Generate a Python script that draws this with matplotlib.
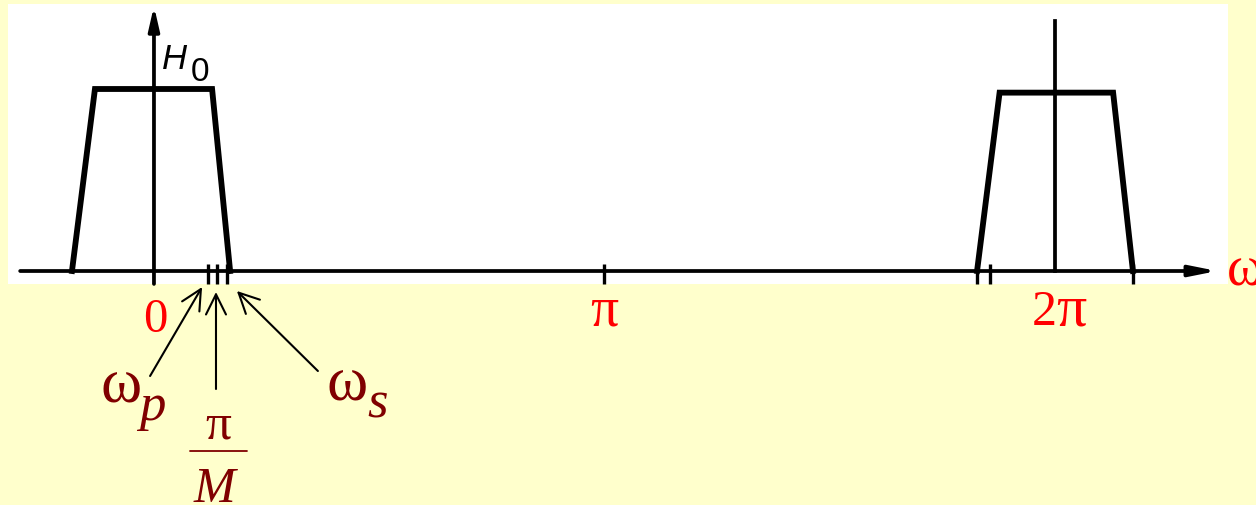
import numpy as np
import matplotlib
matplotlib.use('Agg')
import matplotlib.pyplot as plt
from matplotlib.transforms import offset_copy

PI = np.pi

# ---- data (frequencies in units of pi) ----
left_w = [-0.182, -0.131, 0.129, 0.169]
left_h = [0.0, 1.0, 1.0, 0.0]
right_w = [1.827, 1.877, 2.129, 2.173]
right_h = [0.0, 0.98, 0.98, 0.0]
tick_w = [0.119, 0.141, 0.163, 1.0, 1.827, 1.856, 2.173]
label_w = [0.0, 1.0, 2.0]
label_num = ['0', '', '2']
label_greek = ['', 'π', 'π']
wp, pi_M, ws = 0.119, 0.141, 0.163
x_axis = [-0.297, 2.360]
y_axis = [-0.071, 1.456]
line_2pi = [0.0, 1.374]

BG = '#FFFFCC'
RED = '#FF0000'
DRED = '#800000'
SERIF = 'Liberation Serif'
SANS = 'Liberation Sans'

fig = plt.figure(figsize=(12.56, 5.06), dpi=100, facecolor=BG)
ax = fig.add_axes([8 / 1256, 221 / 506, 1220 / 1256, 280 / 506])
ax.set_facecolor('white')
for s in ax.spines.values():
    s.set_visible(False)
ax.set_xticks([])
ax.set_yticks([])
ax.set_xlim(-0.324 * PI, 2.384 * PI)
ax.set_ylim(-0.0714, 1.467)


def at(dx, dy):
    return offset_copy(ax.transData, fig=fig, x=dx, y=dy, units='dots')


# trapezoids
ax.plot(np.array(left_w) * PI, left_h, color='black', lw=4.2,
        solid_joinstyle='miter', clip_on=False, zorder=3)
ax.plot(np.array(right_w) * PI, right_h, color='black', lw=4.2,
        solid_joinstyle='miter', clip_on=False, zorder=3)

# horizontal axis with arrow
ax.annotate('', xy=(x_axis[1] * PI, 0), xytext=(x_axis[0] * PI, 0),
            arrowprops=dict(arrowstyle='-|>,head_length=1.6,head_width=0.32',
                            lw=2.7, color='black', mutation_scale=10,
                            shrinkA=0, shrinkB=0),
            annotation_clip=False, zorder=2)
# vertical axis with arrow
ax.annotate('', xy=(0, y_axis[1]), xytext=(0, y_axis[0]),
            arrowprops=dict(arrowstyle='-|>,head_length=1.4,head_width=0.32',
                            lw=2.7, color='black', mutation_scale=10,
                            shrinkA=0, shrinkB=0),
            annotation_clip=False, zorder=2)
# vertical line at 2*pi
ax.plot([2 * PI, 2 * PI], line_2pi, color='black', lw=2.7, clip_on=False, zorder=2)

# ticks
for t in tick_w:
    ax.plot([t * PI, t * PI], [-0.071, 0.04], color='black', lw=2.4,
            solid_capstyle='butt', clip_on=False, zorder=2)

# red tick labels (digit part and greek part)
num_dx = [1.5, 0, 2.0]
greek_dx = [0, -14, 0]
for w, num, gr, ndx, gdx in zip(label_w, label_num, label_greek, num_dx, greek_dx):
    if num and gr:
        ax.text(w * PI, 0, num, transform=at(ndx, -53), ha='right', va='baseline',
                fontsize=36, color=RED, family=SERIF, clip_on=False)
        ax.text(w * PI, 0, gr, transform=at(ndx - 1, -53), ha='left', va='baseline',
                fontsize=43, color=RED, family=SERIF, clip_on=False)
    elif num:
        ax.text(w * PI, 0, num, transform=at(ndx, -60), ha='center', va='baseline',
                fontsize=35, color=RED, family=SERIF, clip_on=False)
    else:
        ax.text(w * PI, 0, gr, transform=at(gdx, -53), ha='left', va='baseline',
                fontsize=40, color=RED, family=SERIF, clip_on=False)

# omega label at axis end
ax.text(x_axis[1] * PI, 0, 'ω', transform=at(10, -13), ha='left', va='baseline',
        fontsize=40, color=RED, family=SERIF, clip_on=False)

# H0 label
ax.text(0, 1, 'H', transform=at(8, 21), ha='left', va='baseline',
        fontsize=25, style='italic', color='black', family=SANS)
ax.text(0, 1, '0', transform=at(37, 9), ha='left', va='baseline',
        fontsize=24, color='black', family=SANS)

# annotation arrows
arrow_kw = dict(arrowstyle='->,head_length=1.45,head_width=0.72', lw=1.5,
                color='black', mutation_scale=10, shrinkA=0, shrinkB=0)
# (tick, tip dx, tip dy, tail dx, tail dy) in pixels
for w, tdx, tdy, sdx, sdy in [(wp, -5.5, -16, -57.5, -105),
                              (pi_M, -1.5, -21, -1.5, -118),
                              (ws, 9.5, -20, 90.5, -100)]:
    ax.annotate('', xy=(w * PI, 0), xycoords=at(tdx, tdy),
                xytext=(sdx - tdx, sdy - tdy), textcoords='offset pixels',
                arrowprops=arrow_kw, annotation_clip=False)

# omega_p
ax.text(wp * PI, 0, 'ω', transform=at(-107, -130), ha='left', va='baseline',
        fontsize=45, color=DRED, family=SERIF, clip_on=False)
ax.text(wp * PI, 0, 'p', transform=at(-68, -148), ha='left', va='baseline',
        fontsize=38, style='italic', color=DRED, family=SERIF, clip_on=False)
# omega_s
ax.text(ws * PI, 0, 'ω', transform=at(99, -128), ha='left', va='baseline',
        fontsize=45, color=DRED, family=SERIF, clip_on=False)
ax.text(ws * PI, 0, 's', transform=at(140, -145), ha='left', va='baseline',
        fontsize=38, style='italic', color=DRED, family=SERIF, clip_on=False)
# pi / M
ax.text(pi_M * PI, 0, 'π', transform=at(1, -166), ha='center', va='baseline',
        fontsize=37, color=DRED, family=SERIF, clip_on=False)
ax.annotate('', xy=(pi_M * PI, 0), xycoords=at(29.5, -180),
            xytext=(-57, 0), textcoords='offset pixels',
            arrowprops=dict(arrowstyle='-', lw=1.3, color=DRED,
                            shrinkA=0, shrinkB=0),
            annotation_clip=False)
ax.text(pi_M * PI, 0, 'M', transform=at(-3, -230), ha='center', va='baseline',
        fontsize=36, style='italic', color=DRED, family=SERIF, clip_on=False)

fig.savefig('out.png', dpi=100, facecolor=BG)
